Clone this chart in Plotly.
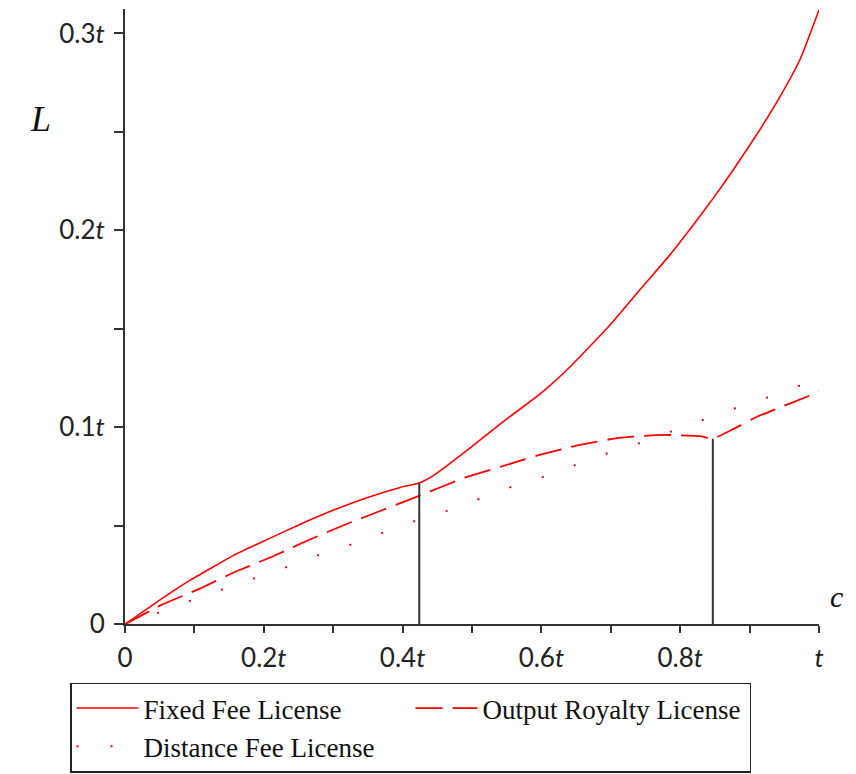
import plotly.graph_objects as go

# ---- data (units of t) ----
fixed_x = [0, 0.0605, 0.094, 0.1565, 0.2046, 0.2526, 0.3006, 0.3487, 0.3967, 0.424,
           0.4447, 0.4928, 0.5408, 0.5888, 0.6052, 0.6392, 0.6969, 0.7425, 0.7857, 0.8193,
           0.848, 0.8768, 0.9155, 0.944, 0.973, 1.0]
fixed_y = [0, 0.0148, 0.0224, 0.0350, 0.0430, 0.0508, 0.0580, 0.0643, 0.0695, 0.0717,
           0.0756, 0.0883, 0.1018, 0.1144, 0.1190, 0.1300, 0.1512, 0.1701, 0.1878, 0.2030,
           0.2165, 0.2309, 0.2515, 0.2680, 0.2870, 0.3119]

royalty_x = [0, 0.0533, 0.1085, 0.1565, 0.2118, 0.2622, 0.3150, 0.3703, 0.4255, 0.4591, 0.4929,
             0.5458, 0.5985, 0.6536, 0.7137, 0.7761, 0.8290, 0.8473, 0.8770, 0.9106, 0.9587, 1.0]
royalty_y = [0, 0.0100, 0.0182, 0.0263, 0.0343, 0.0424, 0.0503, 0.0579, 0.0655, 0.0702, 0.0749,
             0.0805, 0.0861, 0.0910, 0.0948, 0.0962, 0.0955, 0.0942, 0.0992, 0.1054, 0.1122, 0.1180]

distance_x = [0, 0.0484, 0.0945, 0.1406, 0.1859, 0.2324, 0.2801, 0.3246, 0.3708, 0.4179, 0.4640,
              0.5105, 0.5561, 0.6021, 0.6493, 0.6959, 0.7409, 0.7885, 0.8346, 0.8807, 0.9268,
              0.9726, 1.0]
distance_y = [0, 0.0059, 0.0120, 0.0177, 0.0231, 0.0290, 0.0353, 0.0404, 0.0464, 0.0525, 0.0576,
              0.0636, 0.0697, 0.0748, 0.0809, 0.0869, 0.0920, 0.0981, 0.1042, 0.1099, 0.1153,
              0.1214, 0.1248]

threshold_x = [0.424, 0.847]
threshold_y = [0.0717, 0.0942]

x_tickvals = [0, 0.1, 0.2, 0.3, 0.4, 0.5, 0.6, 0.7, 0.8, 0.9, 1.0]
x_ticktext = ["0", "", "0.2<i>t</i>", "", "0.4<i>t</i>", "", "0.6<i>t</i>", "", "0.8<i>t</i>", "", "<i>t</i>"]
y_tickvals = [0, 0.05, 0.1, 0.15, 0.2, 0.25, 0.3]
y_ticktext = ["0", "", "0.1<i>t</i>", "", "0.2<i>t</i>", "", "0.3<i>t</i>"]

RED = "#ff0000"
AX = "#333333"

fig = go.Figure()
fig.add_trace(go.Scatter(x=fixed_x, y=fixed_y, mode="lines", name="Fixed Fee License",
                         line=dict(color=RED, width=1.6, shape="spline", smoothing=0.4)))
fig.add_trace(go.Scatter(x=royalty_x, y=royalty_y, mode="lines", name="Output Royalty License",
                         line=dict(color=RED, width=1.8, dash="27px,10px",
                                   shape="spline", smoothing=0.3)))
fig.add_trace(go.Scatter(x=distance_x, y=distance_y, mode="lines", name="Distance Fee License",
                         line=dict(color=RED, width=2, dash="2px,32px")))
for tx, ty in zip(threshold_x, threshold_y):
    fig.add_trace(go.Scatter(x=[tx, tx], y=[0, ty], mode="lines", showlegend=False,
                             line=dict(color=AX, width=2), hoverinfo="skip"))

fig.update_layout(
    width=856, height=774,
    margin=dict(l=125, r=37, t=9, b=148),
    plot_bgcolor="white", paper_bgcolor="white",
    showlegend=True,
    legend=dict(
        xref="container", yref="container",
        x=70/856, y=1.5/774, xanchor="left", yanchor="bottom",
        orientation="h",
        entrywidth=262, entrywidthmode="pixels",
        itemwidth=62,
        bordercolor="#222222", borderwidth=1.5, bgcolor="white",
        font=dict(family="Liberation Serif", size=27, color="#111111"),
        tracegroupgap=0,
    ),
    xaxis=dict(range=[0, 1], showgrid=False, zeroline=False, showline=True,
               linecolor=AX, linewidth=2, ticks="outside", ticklen=7, tickwidth=2,
               tickcolor=AX, tickvals=x_tickvals, ticktext=x_ticktext,
               tickfont=dict(family="Lato", size=26, color="#222222"),
               ticklabelstandoff=3),
    yaxis=dict(range=[0, 0.3124], showgrid=False, zeroline=False, showline=True,
               linecolor=AX, linewidth=2, ticks="outside", ticklen=9, tickwidth=2,
               tickcolor=AX, tickvals=y_tickvals, ticktext=y_ticktext,
               tickfont=dict(family="Lato", size=26, color="#222222"),
               ticklabelstandoff=4),
    annotations=[
        dict(text="<i>L</i>", xref="paper", yref="paper", x=(28-125)/694, y=(626-97)/617,
             showarrow=False, font=dict(family="Liberation Serif", size=36, color="#111111")),
        dict(text="<i>c</i>", xref="paper", yref="paper", x=(845-125)/694, y=(626-617)/617,
             showarrow=False, font=dict(family="Liberation Serif", size=30, color="#111111")),
    ],
)

fig.write_html("out.html", config={"displayModeBar": False},
               post_script="document.body.style.margin='0';")
